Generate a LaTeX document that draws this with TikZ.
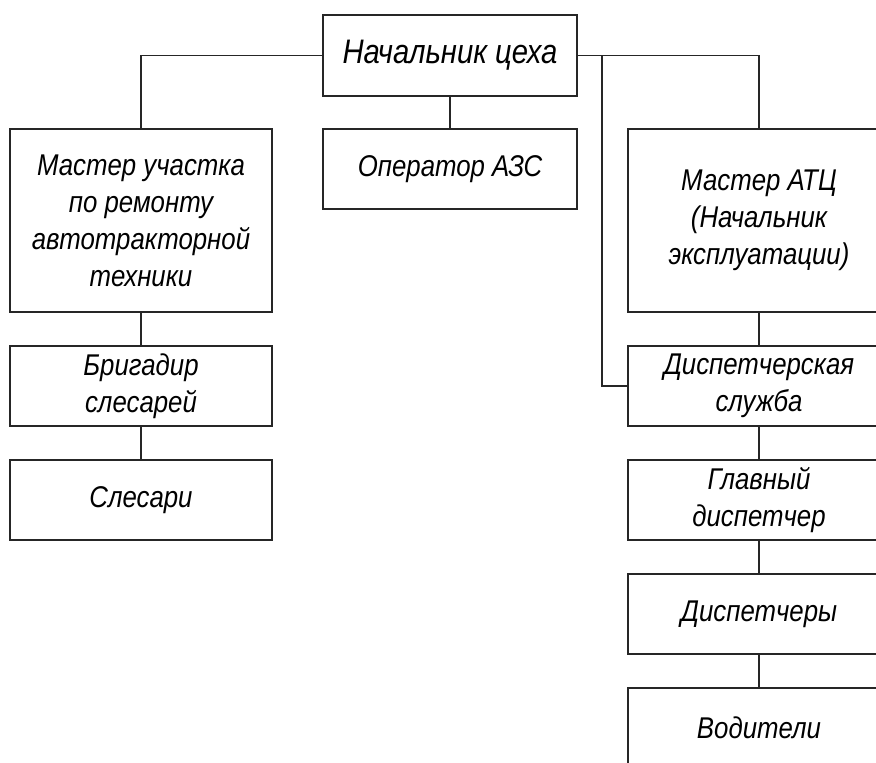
\documentclass[tikz,border=0pt]{standalone}
\usepackage{fontspec}
\setmainfont{Liberation Sans}
\newfontfamily\gostfont[FakeStretch=0.86]{Liberation Sans}
\usetikzlibrary{calc}
\tikzset{
  unit/.style={draw=black!85, line width=1.1pt, inner sep=0pt, outer sep=0pt,
    minimum width=262pt, minimum height=80pt, align=center,
    font=\gostfont\itshape\fontsize{30}{37}\selectfont},
  wire/.style={draw=black!85, line width=1.1pt},
}
\begin{document}
\begin{tikzpicture}[x=1pt,y=-1pt]
\useasboundingbox (0,0) rectangle (876,763);
\clip (0,0) rectangle (876,763);
\node[unit, minimum width=254pt, minimum height=81pt, font=\gostfont\itshape\fontsize{34}{40}\selectfont] (top) at (450,55.5) {Начальник цеха};
\node[unit, minimum width=254pt] (op) at (450,169) {Оператор АЗС};
\node[unit, minimum height=183pt] (mast) at (141,220.5) {Мастер участка\\по ремонту\\автотракторной\\техники};
\node[unit] (brig) at (141,386) {Бригадир\\слесарей};
\node[unit] (sles) at (141,500) {Слесари};
\node[unit, minimum height=183pt] (atc) at (759,220.5) {Мастер АТЦ\\(Начальник\\эксплуатации)};
\node[unit] (disp) at (759,386) {Диспетчерская\\служба};
\node[unit] (glav) at (759,500) {Главный\\диспетчер};
\node[unit] (dispr) at (759,614) {Диспетчеры};
\node[unit] (vod) at (759,728) {Водители};
\coordinate (j) at ($(top.east)+(25pt,0)$);
\draw[wire] (top.west) -| (mast.north);
\draw[wire] (top.east) -| (atc.north);
\draw[wire] (top.south) -- (op.north);
\draw[wire] (j) |- (disp.west);
\draw[wire] (mast.south) -- (brig.north);
\draw[wire] (brig.south) -- (sles.north);
\draw[wire] (atc.south) -- (disp.north);
\draw[wire] (disp.south) -- (glav.north);
\draw[wire] (glav.south) -- (dispr.north);
\draw[wire] (dispr.south) -- (vod.north);
\end{tikzpicture}
\end{document}
